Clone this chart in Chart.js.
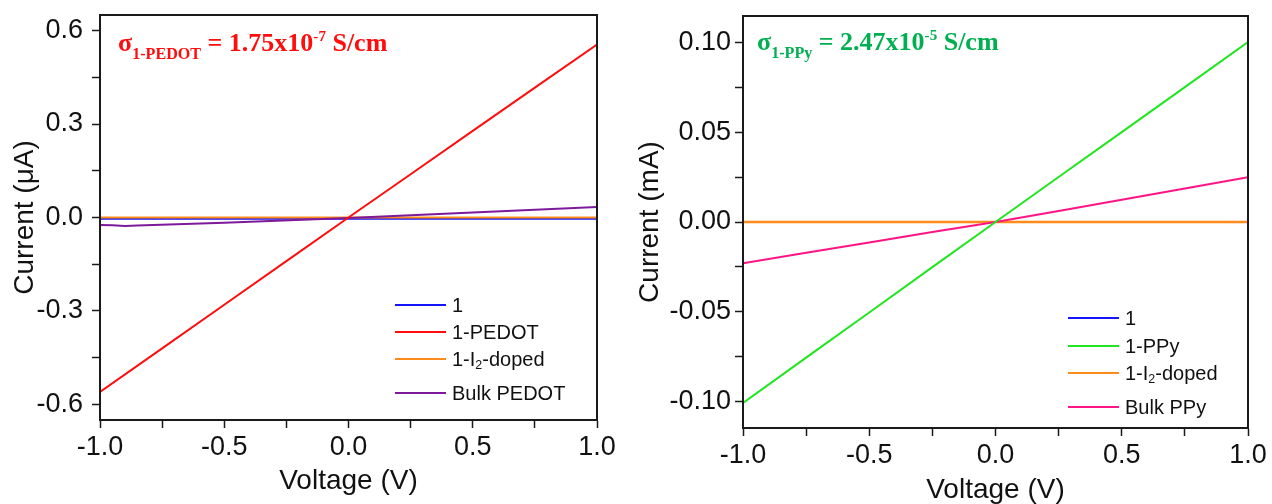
<!DOCTYPE html>
<html>
<head>
<meta charset="utf-8">
<script src="https://cdn.jsdelivr.net/npm/chart.js@4/dist/chart.umd.min.js"></script>
<style>
  html, body { margin: 0; padding: 0; background: #fff; }
  #wrap { display: flex; width: 1272px; height: 504px; }
  canvas { display: block; }
</style>
</head>
<body>
<div id="wrap">
  <canvas id="ivPedot" width="636" height="504"></canvas>
  <canvas id="ivPpy" width="636" height="504"></canvas>
</div>
<script>
// voltage sweep (V)
const voltage = [-1.0, -0.75, -0.5, -0.25, 0.0, 0.25, 0.5, 0.75, 1.0];

// left panel, current in µA
const pedotPristine = [-0.004, -0.004, -0.004, -0.004, -0.004, -0.004, -0.004, -0.004, -0.004];
const pedotFilm = [-0.560, -0.420, -0.280, -0.140, 0.0, 0.139, 0.278, 0.417, 0.555];
const pedotDoped = [0, 0, 0, 0, 0, 0, 0, 0, 0];
const bulkPedotVoltage = [-1.0, -0.95, -0.9, -0.85, -0.5, 0.0, 0.5, 1.0];
const bulkPedot = [-0.024, -0.025, -0.027, -0.026, -0.017, -0.002, 0.016, 0.034];

// right panel, current in mA
const ppyPristine = [0, 0, 0, 0, 0, 0, 0, 0, 0];
const ppyFilm = [-0.101, -0.0757, -0.0505, -0.0252, 0.0, 0.0251, 0.0502, 0.0753, 0.1005];
const ppyDoped = [0, 0, 0, 0, 0, 0, 0, 0, 0];
const bulkPpy = [-0.0230, -0.0172, -0.0114, -0.0056, 0.0, 0.0062, 0.0124, 0.0187, 0.0250];

// tick positions, every other one gets a label
const voltageTicks = [-1.0, -0.75, -0.5, -0.25, 0, 0.25, 0.5, 0.75, 1.0];
const pedotTicks = [-0.6, -0.45, -0.3, -0.15, 0, 0.15, 0.3, 0.45, 0.6];
const ppyTicks = [-0.1, -0.075, -0.05, -0.025, 0, 0.025, 0.05, 0.075, 0.1];

const pedotLabels = ['1', '1-PEDOT', '1-I_{2}-doped', 'Bulk PEDOT'];
const ppyLabels = ['1', '1-PPy', '1-I_{2}-doped', 'Bulk PPy'];

const pedotNote = 'σ_{1-PEDOT} = 1.75x10^{-7} S/cm';
const ppyNote = 'σ_{1-PPy} = 2.47x10^{-5} S/cm';

const SANS = '"Liberation Sans", Arial, sans-serif';
const SERIF = '"Liberation Serif", "Times New Roman", serif';

function series(label, xs, ys, color, order, width) {
    return {
        label: label,
        data: xs.map((x, i) => ({x: x, y: ys[i]})),
        borderColor: color,
        backgroundColor: color,
        borderWidth: width || 2,
        pointRadius: 0,
        tension: 0,
        order: order
    };
}

// text with _{sub} and ^{sup} pieces
function drawRich(ctx, text, x, y, size, family, weight) {
    const parts = text.split(/([_^]\{[^}]*\})/).filter(Boolean);
    for (const p of parts) {
        let s = p, fs = size, dy = 0;
        if (p.startsWith('_{')) { s = p.slice(2, -1); fs = size * 0.62; dy = size * 0.3; }
        else if (p.startsWith('^{')) { s = p.slice(2, -1); fs = size * 0.58; dy = -size * 0.4; }
        ctx.font = `${weight} ${fs}px ${family}`;
        ctx.fillText(s, x, y + dy);
        x += ctx.measureText(s).width;
    }
    return x;
}

const ivDecor = {
    id: 'ivDecor',
    afterDraw(chart, args, opts) {
        const {ctx, chartArea: a} = chart;
        ctx.save();
        // closed frame
        ctx.strokeStyle = '#1a1a1a';
        ctx.lineWidth = 2;
        ctx.strokeRect(a.left, a.top, a.right - a.left, a.bottom - a.top);

        // conductivity note
        ctx.fillStyle = opts.noteColor;
        ctx.textBaseline = 'alphabetic';
        drawRich(ctx, opts.note, a.left + opts.noteDx, a.top + opts.noteDy, 26, SERIF, 'bold');

        // legend, bottom right, no box
        const sets = chart.data.datasets;
        opts.rows.forEach((dy, i) => {
            const y = a.bottom + dy;
            const x0 = a.right + opts.legendDx;
            ctx.strokeStyle = sets[i].borderColor;
            ctx.lineWidth = 2;
            ctx.beginPath();
            ctx.moveTo(x0, y);
            ctx.lineTo(x0 + 51, y);
            ctx.stroke();
            ctx.fillStyle = '#111';
            ctx.textBaseline = 'middle';
            drawRich(ctx, opts.labels[i], x0 + 57, y + 1, 20, SANS, 'normal');
        });
        ctx.restore();
    }
};

function axisTicks(values, digits, pad) {
    return {
        afterBuildTicks: s => { s.ticks = values.map(v => ({value: v})); },
        ticks: {
            autoSkip: false,
            maxRotation: 0,
            color: '#111',
            padding: pad,
            font: {family: SANS, size: 27},
            callback: (v, i) => (i % 2 === 0 ? v.toFixed(digits) : '')
        },
        grid: {drawOnChartArea: false, drawTicks: true, tickLength: 8, tickColor: '#1a1a1a', tickWidth: 1.5},
        border: {display: true, color: '#1a1a1a', width: 2}
    };
}

function makeChart(id, cfg) {
    const x = axisTicks(voltageTicks, 1, 3);
    Object.assign(x, {
        type: 'linear', min: -1, max: 1,
        afterFit: s => { s.height = cfg.xHeight; s.paddingLeft = 0; s.paddingRight = 0; },
        title: {display: true, text: 'Voltage (V)', color: '#111',
            font: {family: SANS, size: 28, lineHeight: 1},
            padding: {top: 0, bottom: cfg.xTitlePad}}
    });
    const y = axisTicks(cfg.yTicks, cfg.yDigits, cfg.yTickPad);
    Object.assign(y, {
        type: 'linear', min: cfg.yMin, max: cfg.yMax,
        // frame edges come from layout padding only
        afterFit: s => { s.width = cfg.yWidth; s.paddingTop = 0; s.paddingBottom = 0; },
        title: {display: true, text: cfg.yTitle, color: '#111',
            font: {family: SANS, size: 28, lineHeight: 1},
            padding: {top: cfg.yTitlePad, bottom: 0}}
    });
    return new Chart(document.getElementById(id), {
        type: 'line',
        data: {datasets: cfg.datasets},
        options: {
            responsive: false,
            animation: false,
            devicePixelRatio: 1,
            layout: {padding: {top: cfg.top, right: cfg.right, left: 0, bottom: 0}},
            scales: {x: x, y: y},
            plugins: {
                legend: {display: false},
                tooltip: {enabled: false},
                ivDecor: cfg.decor
            }
        },
        plugins: [ivDecor]
    });
}

makeChart('ivPedot', {
    datasets: [
        series(pedotLabels[0], voltage, pedotPristine, '#1414ff', 3),
        series(pedotLabels[1], voltage, pedotFilm, '#ff0d0d', 0),
        series(pedotLabels[2], voltage, pedotDoped, '#ff8c1a', 2),
        series(pedotLabels[3], bulkPedotVoltage, bulkPedot, '#7d1a9a', 1)
    ],
    yTicks: pedotTicks, yDigits: 1, yMin: -0.65, yMax: 0.65,
    yTitle: 'Current (μA)',
    top: 15, right: 39, yWidth: 100, xHeight: 84,
    xTitlePad: 9, yTitlePad: 11, yTickPad: 9,
    decor: {
        note: pedotNote, noteColor: '#ff0d0d', noteDx: 18, noteDy: 36,
        labels: pedotLabels, legendDx: -202, rows: [-115, -88, -61, -27]
    }
});

makeChart('ivPpy', {
    datasets: [
        series(ppyLabels[0], voltage, ppyPristine, '#1414ff', 3, 1.2),
        series(ppyLabels[1], voltage, ppyFilm, '#1fe61f', 0),
        series(ppyLabels[2], voltage, ppyDoped, '#ff8c1a', 2, 2.5),
        series(ppyLabels[3], voltage, bulkPpy, '#ff1485', 1)
    ],
    yTicks: ppyTicks, yDigits: 2, yMin: -0.115, yMax: 0.115,
    yTitle: 'Current (mA)',
    top: 16, right: 24, yWidth: 107, xHeight: 76,
    xTitlePad: 0, yTitlePad: 0, yTickPad: 4,
    decor: {
        note: ppyNote, noteColor: '#00b050', noteDx: 14, noteDy: 34,
        labels: ppyLabels, legendDx: -180, rows: [-110, -82, -55, -21]
    }
});
</script>
</body>
</html>
